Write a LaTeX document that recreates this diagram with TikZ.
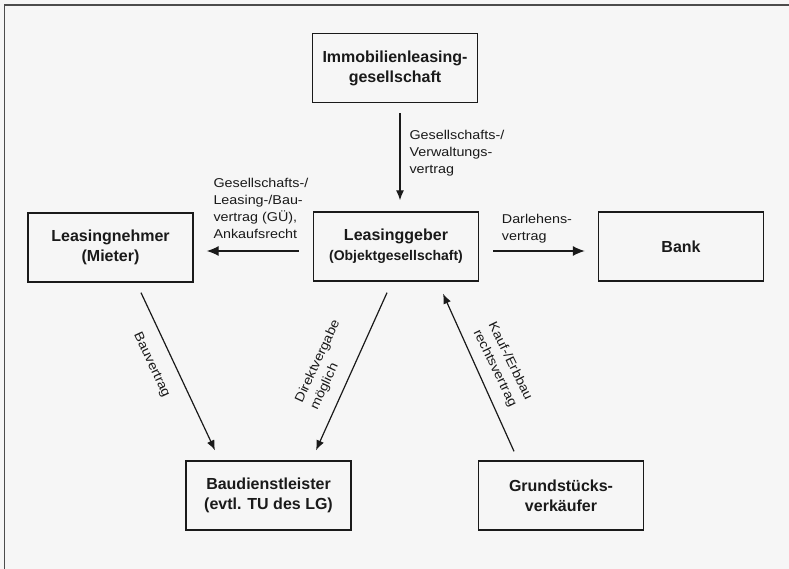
\documentclass[tikz,border=0pt]{standalone}
\usepackage{fontspec}
\setmainfont{Liberation Sans}
\newfontfamily\labfont[FakeStretch=1.12]{Liberation Sans}
\usetikzlibrary{arrows.meta}
\definecolor{paper}{HTML}{F6F6F6}
\definecolor{ink}{HTML}{1A1A1A}
\tikzset{
  party/.style={draw=ink, line width=1.4pt, minimum width=165pt, minimum height=69pt,
    inner sep=0pt, align=center, text=ink, font=\bfseries\fontsize{16}{20}\selectfont},
  contract/.style={-{Latex[length=10pt,width=8pt]}, line width=1.2pt, draw=ink},
  bigcontract/.style={-{Latex[length=12pt,width=10pt]}, line width=1.2pt, draw=ink},
  lbl/.style={inner sep=0pt, align=left, text=ink, font={\labfont\fontsize{12.8}{16.8}\selectfont}},
}
\begin{document}
\begin{tikzpicture}[x=1pt,y=-1pt]
  \useasboundingbox (0,0) rectangle (789,569);
  \fill[paper] (0,0) rectangle (789,569);
  % page frame (left and top edges)
  \draw[line width=1.6pt, draw=black!70] (4.5,569) -- (4.5,5) -- (789,5);

  % parties
  \node[party] (imm)  at (395,68)    {Immobilienleasing-\\gesellschaft};
  \node[party] (lg)   at (396,246.5) {Leasinggeber\\{\fontsize{14}{18}\selectfont(Objektgesellschaft)}};
  \node[party] (ln)   at (110.5,247.5) {Leasingnehmer\\(Mieter)};
  \node[party] (bank) at (681,246.5) {Bank};
  \node[party] (bd)   at (268.5,495.5) {Baudienstleister\\(evtl. TU des LG)};
  \node[party] (gs)   at (561,495.5) {Grundstücks-\\verkäufer};

  % contracts
  \draw[contract] ([shift={(5,10)}]imm.south) -- ([shift={(4,-11)}]lg.north);
  \draw[bigcontract] ([shift={(-14,4.5)}]lg.west) -- ([shift={(13,3.5)}]ln.east);
  \draw[bigcontract] ([shift={(14,4.5)}]lg.east) -- ([shift={(-13,4.5)}]bank.west);
  \draw[contract] ([shift={(30.5,10)}]ln.south) -- ([shift={(-53.5,-10)}]bd.north);
  \draw[contract] ([shift={(-9,11)}]lg.south) -- ([shift={(47.5,-10)}]bd.north);
  \draw[contract] ([shift={(-47,-9)}]gs.north) -- ([shift={(47,12)}]lg.south);

  % contract labels (anchored at the baseline of their last line)
  \node[lbl, anchor=base west] (lv) at (409.3,173.3) {Gesellschafts-/\\Verwaltungs-\\vertrag};
  \node[lbl, anchor=base west] (ll) at (213.3,238.3) {Gesellschafts-/\\Leasing-/Bau-\\vertrag (GÜ),\\Ankaufsrecht};
  \node[lbl, anchor=base west] (ld) at (501.7,240.5) {Darlehens-\\vertrag};
  \node[lbl, rotate=-65] (lb) at (151.5,365) {Bauvertrag};
  \node[lbl, rotate=65] (ldir) at (325.6,365) {Direktvergabe\\möglich};
  \node[lbl, rotate=-64] (lk) at (502.4,365) {Kauf-/Erbbau\\rechtsvertrag};
\end{tikzpicture}
\end{document}
